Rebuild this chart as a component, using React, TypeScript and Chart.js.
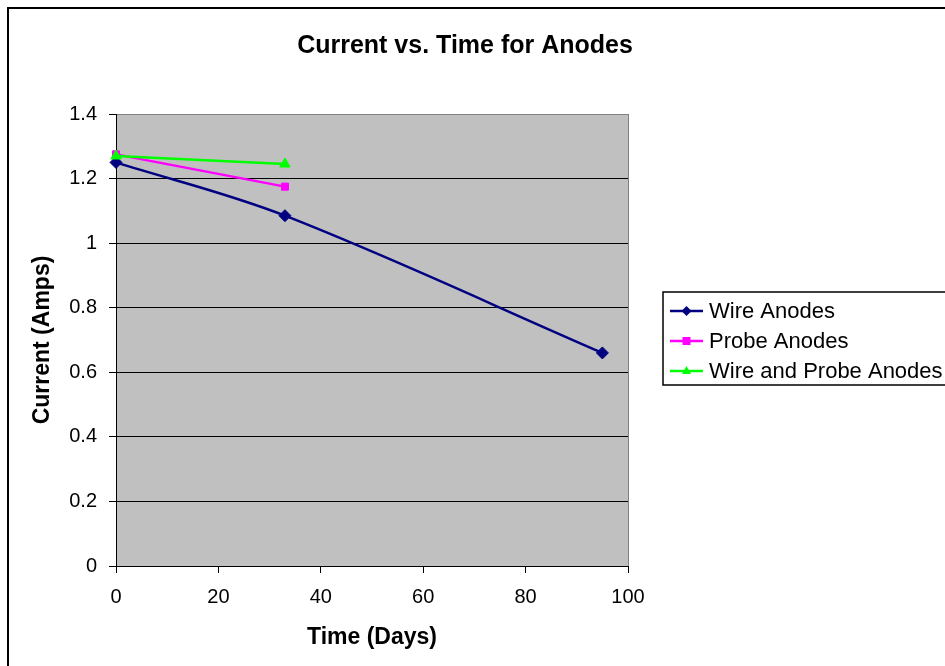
import React, { useEffect, useRef } from 'react';
import { Chart, registerables } from 'chart.js';

Chart.register(...registerables);

const TITLE = 'Current vs. Time for Anodes';
const X_TITLE = 'Time (Days)';
const Y_TITLE = 'Current (Amps)';
const SERIES_NAMES = ['Wire Anodes', 'Probe Anodes', 'Wire and Probe Anodes'];
const SERIES_COLORS = ['#000080', '#FF00FF', '#00FF00'];
const SERIES_MARKERS = ['rectRot', 'rect', 'triangle'];

const WIRE_DAYS = [0, 33, 95];
const WIRE_AMPS = [1.25, 1.085, 0.66];
const PROBE_DAYS = [0, 33];
const PROBE_AMPS = [1.275, 1.175];
const BOTH_DAYS = [0, 33];
const BOTH_AMPS = [1.27, 1.245];

const X_MIN = 0;
const X_MAX = 100;
const X_STEP = 20;
const Y_MIN = 0;
const Y_MAX = 1.4;
const Y_STEP = 0.2;

const FONT = "'Liberation Sans', Arial, Helvetica, sans-serif";

function toPoints(xs: number[], ys: number[]) {
  return xs.map((x, i) => ({ x, y: ys[i] }));
}

function drawMarker(ctx: CanvasRenderingContext2D, style: string, x: number, y: number, r: number, color: string) {
  ctx.save();
  ctx.fillStyle = color;
  ctx.strokeStyle = color;
  ctx.beginPath();
  if (style === 'rectRot') {
    ctx.moveTo(x, y - r);
    ctx.lineTo(x + r, y);
    ctx.lineTo(x, y + r);
    ctx.lineTo(x - r, y);
  } else if (style === 'rect') {
    ctx.rect(x - r * 0.8, y - r * 0.8, r * 1.6, r * 1.6);
  } else {
    ctx.moveTo(x, y - r);
    ctx.lineTo(x + r * 0.9, y + r * 0.6);
    ctx.lineTo(x - r * 0.9, y + r * 0.6);
  }
  ctx.closePath();
  ctx.fill();
  ctx.restore();
}

const decorPlugin = {
  id: 'decor',
  beforeDraw(chart: any) {
    const { ctx, chartArea, width, height } = chart;
    ctx.save();
    ctx.fillStyle = '#FFFFFF';
    ctx.fillRect(0, 0, width, height);
    ctx.fillStyle = '#C0C0C0';
    ctx.fillRect(chartArea.left, chartArea.top, chartArea.right - chartArea.left, chartArea.bottom - chartArea.top);
    // outer chart border
    ctx.strokeStyle = '#000000';
    ctx.lineWidth = 2;
    ctx.strokeRect(8, 8, width + 20, height + 20);
    // title
    ctx.fillStyle = '#000000';
    ctx.font = `bold 25px ${FONT}`;
    ctx.textAlign = 'center';
    ctx.textBaseline = 'middle';
    ctx.fillText(TITLE, 465, 46);
    ctx.restore();
  },
  beforeDatasetsDraw(chart: any) {
    const { ctx, chartArea } = chart;
    ctx.save();
    ctx.strokeStyle = '#808080';
    ctx.lineWidth = 1;
    ctx.beginPath();
    ctx.moveTo(chartArea.right + 0.5, chartArea.top);
    ctx.lineTo(chartArea.right + 0.5, chartArea.bottom);
    ctx.stroke();
    ctx.restore();
  },
  afterDraw(chart: any) {
    const { ctx } = chart;
    ctx.save();
    // legend box
    ctx.strokeStyle = '#000000';
    ctx.lineWidth = 1.5;
    ctx.strokeRect(663, 292, 400, 93);
    ctx.font = `22px ${FONT}`;
    ctx.textAlign = 'left';
    ctx.textBaseline = 'middle';
    chart.data.datasets.forEach((ds: any, i: number) => {
      const y = 311 + i * 30;
      ctx.strokeStyle = ds.borderColor;
      ctx.lineWidth = 2.5;
      ctx.beginPath();
      ctx.moveTo(670, y);
      ctx.lineTo(703, y);
      ctx.stroke();
      drawMarker(ctx, SERIES_MARKERS[i], 686.5, y, 5, ds.borderColor);
      ctx.fillStyle = '#000000';
      ctx.fillText(ds.label, 709, y + 1);
    });
    ctx.restore();
  },
};

export default function App() {
  const canvasRef = useRef<HTMLCanvasElement | null>(null);

  useEffect(() => {
    const canvas = canvasRef.current;
    if (!canvas) return;
    const allDays = [WIRE_DAYS, PROBE_DAYS, BOTH_DAYS];
    const allAmps = [WIRE_AMPS, PROBE_AMPS, BOTH_AMPS];
    const chart = new Chart(canvas, {
      type: 'line',
      data: {
        datasets: SERIES_NAMES.map((name, i) => ({
          label: name,
          data: toPoints(allDays[i], allAmps[i]),
          borderColor: SERIES_COLORS[i],
          backgroundColor: SERIES_COLORS[i],
          pointBackgroundColor: SERIES_COLORS[i],
          pointBorderColor: SERIES_COLORS[i],
          borderWidth: 2.5,
          pointStyle: SERIES_MARKERS[i] as any,
          pointRadius: i === 1 ? 5 : 6,
          pointBorderWidth: 1,
          tension: i === 0 ? 0.35 : 0,
          fill: false,
          clip: false as any,
          order: 2 - i,
        })),
      },
      options: {
        animation: false,
        responsive: false,
        maintainAspectRatio: false,
        devicePixelRatio: 1,
        layout: { padding: { top: 114, left: 0, right: 317, bottom: 0 } },
        plugins: {
          legend: { display: false },
          title: { display: false },
          tooltip: { enabled: false },
        },
        scales: {
          x: {
            type: 'linear',
            min: X_MIN,
            max: X_MAX,
            afterFit: (scale: any) => { scale.height = 100; },
            ticks: {
              stepSize: X_STEP,
              color: '#000000',
              font: { family: FONT, size: 20 },
              padding: 12,
              maxRotation: 0,
            },
            grid: {
              drawOnChartArea: false,
              drawTicks: true,
              tickLength: 7,
              color: '#000000',
              tickColor: '#000000',
            },
            border: { display: true, color: '#000000', width: 1 },
            title: {
              display: true,
              text: X_TITLE,
              color: '#000000',
              font: { family: FONT, size: 23, weight: 'bold' },
              padding: { top: 15, bottom: 15 },
            },
          },
          y: {
            type: 'linear',
            min: Y_MIN,
            max: Y_MAX,
            afterFit: (scale: any) => { scale.width = 116; },
            ticks: {
              stepSize: Y_STEP,
              color: '#000000',
              font: { family: FONT, size: 20 },
              padding: 12,
              callback: (v: any) => String(Math.round(Number(v) * 10) / 10),
            },
            grid: {
              drawOnChartArea: true,
              drawTicks: true,
              tickLength: 7,
              color: (c: any) => (c.tick && c.tick.value > Y_MAX - 1e-6 ? '#808080' : '#000000'),
              tickColor: '#000000',
              lineWidth: 1,
            },
            border: { display: true, color: '#000000', width: 1 },
            title: {
              display: true,
              text: Y_TITLE,
              color: '#000000',
              font: { family: FONT, size: 23, weight: 'bold' },
              padding: { top: 29, bottom: 29 },
            },
          },
        },
      },
      plugins: [decorPlugin],
    } as any);
    return () => chart.destroy();
  }, []);

  return (
    <div style={{ position: 'absolute', left: 0, top: 0, width: 945, height: 666, background: '#FFFFFF' }}>
      <canvas ref={canvasRef} width={945} height={666} style={{ display: 'block', width: 945, height: 666 }} />
    </div>
  );
}
